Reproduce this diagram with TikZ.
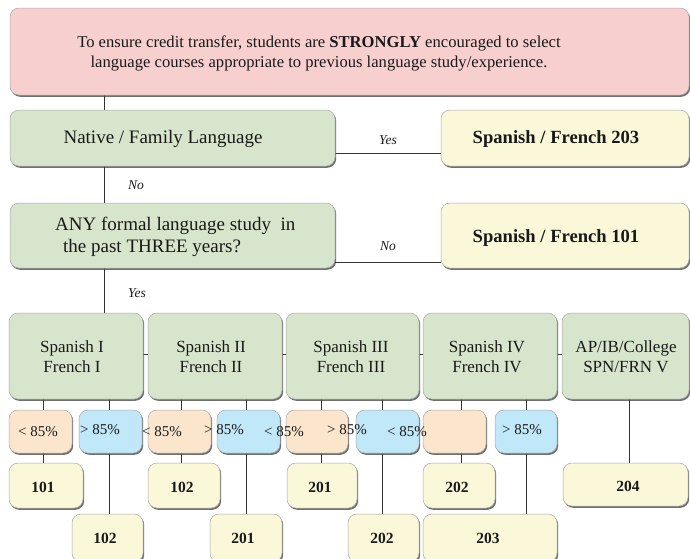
\documentclass[tikz,border=0pt]{standalone}
\usepackage{fontspec}
\setmainfont{Liberation Serif}
\usetikzlibrary{shadows}
\pgfdeclarelayer{background}
\pgfsetlayers{background,main}
\definecolor{cpink}{HTML}{F8CFCF}
\definecolor{cgreen}{HTML}{D6E5CB}
\definecolor{cyell}{HTML}{FBF8D9}
\definecolor{corange}{HTML}{FBE5CD}
\definecolor{cblue}{HTML}{C0E8F8}
\definecolor{cedge}{HTML}{A8A8A8}
\tikzset{
  boxbase/.style={rectangle, rounded corners=9pt, draw=cedge, line width=0.5pt, inner sep=0pt, outer sep=0pt,
    drop shadow={shadow xshift=1.2pt, shadow yshift=-1.8pt, fill=black!75, opacity=0.75}},
  pinkbox/.style={boxbase, fill=cpink},
  greenbox/.style={boxbase, fill=cgreen},
  yellbox/.style={boxbase, fill=cyell},
  orbox/.style={boxbase, fill=corange},
  bluebox/.style={boxbase, fill=cblue},
  txt/.style={inner sep=0pt, align=center, text=black!90},
  maintxt/.style={txt, font=\fontsize{19}{22}\selectfont},
  toptxt/.style={txt, font=\fontsize{16.6}{20}\selectfont},
  boldtxt/.style={txt, font=\fontsize{18.6}{22}\selectfont\bfseries},
  lvltxt/.style={txt, font=\fontsize{17}{19.5}\selectfont},
  pcttxt/.style={txt, font=\fontsize{15}{18}\selectfont},
  restxt/.style={txt, font=\fontsize{15.5}{18}\selectfont\bfseries},
  yn/.style={txt, font=\fontsize{13.5}{16}\selectfont\itshape},
  conn/.style={draw=black!80, line width=0.6pt},
}
\newcommand\mybox[6]{%
  \node[#2, minimum width={(#5-#3)*1pt}, minimum height={(#6-#4)*1pt}] (#1) at ({(#3+#5)/2},{(#4+#6)/2}) {};}
\begin{document}
\begin{tikzpicture}[x=1pt, y=-1pt]
\useasboundingbox (0,0) rectangle (690,558);
% boxes
\mybox{top}{pinkbox}{10}{8}{689}{95}
\mybox{nat}{greenbox}{10}{110}{335}{166}
\mybox{f203}{yellbox}{441}{110}{689}{166}
\mybox{any}{greenbox}{10}{203}{335}{268}
\mybox{f101}{yellbox}{441}{203}{689}{268}
\mybox{s1}{greenbox}{9}{313}{143}{399}
\mybox{s2}{greenbox}{148}{313}{282}{399}
\mybox{s3}{greenbox}{286}{313}{419}{399}
\mybox{s4}{greenbox}{423}{313}{557}{399}
\mybox{ap}{greenbox}{562}{313}{689}{399}
\mybox{p1}{orbox}{9}{410}{72}{453}
\mybox{p2}{bluebox}{79}{410}{142}{453}
\mybox{p3}{orbox}{148}{410}{211}{453}
\mybox{p4}{bluebox}{217}{410}{280}{453}
\mybox{p5}{orbox}{286}{410}{348}{453}
\mybox{p6}{bluebox}{356}{410}{419}{453}
\mybox{p7}{orbox}{423}{410}{486}{453}
\mybox{p8}{bluebox}{495}{410}{557}{453}
\mybox{r1}{yellbox}{9}{463}{83}{508}
\mybox{r3}{yellbox}{148}{463}{220}{508}
\mybox{r5}{yellbox}{287}{463}{357}{508}
\mybox{r7}{yellbox}{423}{463}{495}{508}
\mybox{r9}{yellbox}{563}{463}{688}{506}
\mybox{r2}{yellbox}{72}{514}{143}{562}
\mybox{r4}{yellbox}{210}{514}{282}{562}
\mybox{r6}{yellbox}{348}{514}{419}{562}
\mybox{r8}{yellbox}{423}{514}{557}{562}
% texts
\node[toptxt] (ttop) at (319,53) {To ensure credit transfer, students are \textbf{STRONGLY} encouraged to select\\language courses appropriate to previous language study/experience.};
\node[maintxt] (tnat) at (163,139) {Native / Family Language};
\node[boldtxt] (t203) at (556,139) {Spanish / French 203};
\node[maintxt, anchor=west] (tany1) at (55,226) {ANY formal language study \ in};
\node[maintxt, anchor=west] (tany2) at (63,248) {the past THREE years?};
\node[boldtxt] (t101) at (556,238) {Spanish / French 101};
\node[yn] (y1) at (388,140) {Yes};
\node[yn] (n1) at (136,185) {No};
\node[yn] (n2) at (388,246) {No};
\node[yn] (y2) at (137,293) {Yes};
\node[lvltxt] (ts1) at (72,356.5) {Spanish I\\French I};
\node[lvltxt] (ts2) at (211,356.5) {Spanish II\\French II};
\node[lvltxt] (ts3) at (351,356.5) {Spanish III\\French III};
\node[lvltxt] (ts4) at (487,356.5) {Spanish IV\\French IV};
\node[lvltxt] (tap) at (626,356.5) {AP/IB/College\\SPN/FRN V};
\node[pcttxt] (tp1) at (38,432) {< 85\%};
\node[pcttxt] (tp2) at (100,430) {> 85\%};
\node[pcttxt] (tp3) at (162,432) {< 85\%};
\node[pcttxt] (tp4) at (224,430) {> 85\%};
\node[pcttxt] (tp5) at (284,432) {< 85\%};
\node[pcttxt] (tp6) at (347,430) {> 85\%};
\node[pcttxt] (tp7) at (407,432) {< 85\%};
\node[pcttxt] (tp8) at (522,430) {> 85\%};
\node[restxt] (tr1) at (43,487) {101};
\node[restxt] (tr3) at (182,487) {102};
\node[restxt] (tr5) at (320,487) {201};
\node[restxt] (tr7) at (457,487) {202};
\node[restxt] (tr9) at (628,486) {204};
\node[restxt] (tr2) at (105,538) {102};
\node[restxt] (tr4) at (243,538) {201};
\node[restxt] (tr6) at (382,538) {202};
\node[restxt] (tr8) at (488,538) {203};
% connectors
\coordinate (spx) at (104,0);
\begin{pgfonlayer}{background}
\draw[conn] (top.south -| spx) -- (spx |- s1.north);
\draw[conn] ([yshift=-15pt]nat.east) -- ([yshift=-15pt]f203.west);
\draw[conn] ([yshift=-26.5pt]any.east) -- ([yshift=-26.5pt]f101.west);
\draw[conn] ([yshift=2pt]s1.east) -- ([yshift=2pt]ap.west);
\draw[conn] ([xshift=-3pt]r1.north) -- ([xshift=-3pt]r1.north |- s1.south);
\draw[conn] ([xshift=1.5pt]r2.north) -- ([xshift=1.5pt]r2.north |- s1.south);
\draw[conn] ([xshift=-3pt]r3.north) -- ([xshift=-3pt]r3.north |- s2.south);
\draw[conn] (r4.north) -- (r4.north |- s2.south);
\draw[conn] ([xshift=-1pt]r5.north) -- ([xshift=-1pt]r5.north |- s3.south);
\draw[conn] ([xshift=-1.5pt]r6.north) -- ([xshift=-1.5pt]r6.north |- s3.south);
\draw[conn] ([xshift=2pt]r7.north) -- ([xshift=2pt]r7.north |- s4.south);
\draw[conn] ([xshift=36pt]r8.north) -- ([xshift=36pt]r8.north |- s4.south);
\draw[conn] ([xshift=3.5pt]r9.north) -- ([xshift=3.5pt]r9.north |- ap.south);
\end{pgfonlayer}
\end{tikzpicture}
\end{document}
